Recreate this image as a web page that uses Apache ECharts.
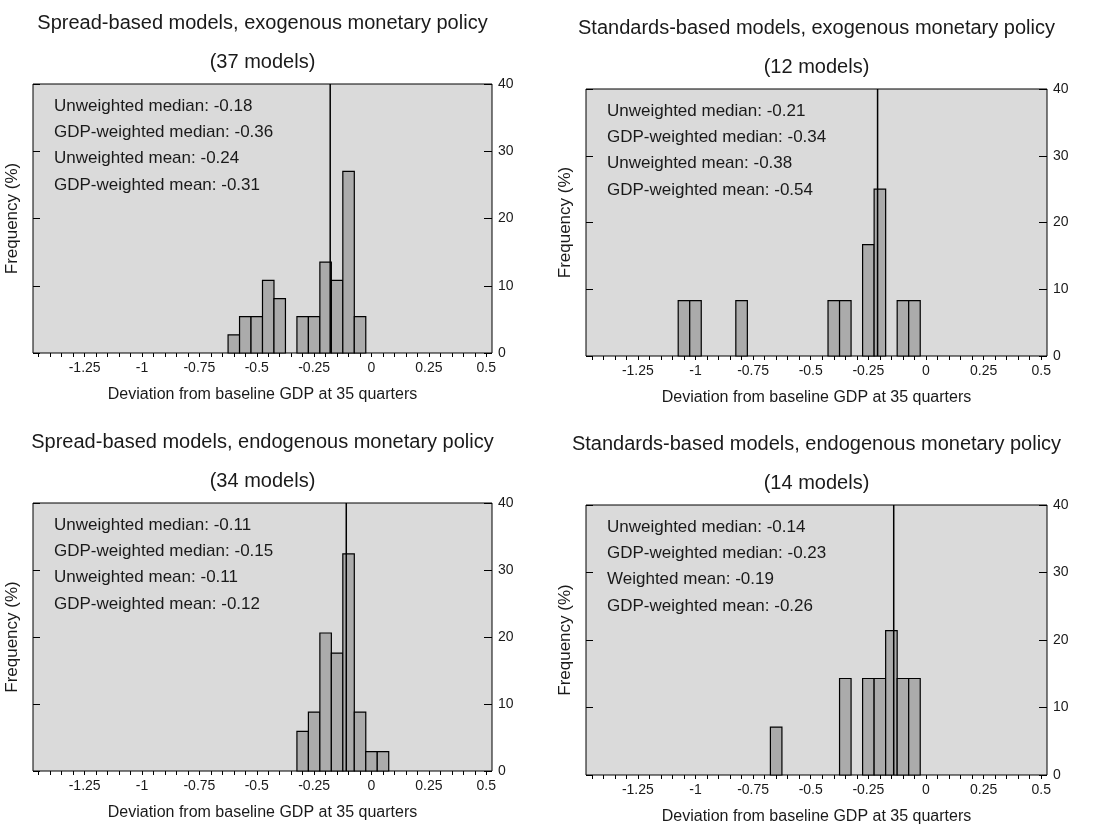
<!DOCTYPE html>
<html>
<head>
<meta charset="utf-8">
<script src="https://cdn.jsdelivr.net/npm/echarts@6/dist/echarts.min.js"></script>
<style>
  html, body { margin: 0; padding: 0; background: #ffffff; }
  #chart { width: 1102px; height: 826px; }
</style>
</head>
<body>
<div id="chart"></div>
<script>
// Panel headings
const panelTitles = [
  'Spread-based models, exogenous monetary policy',
  'Standards-based models, exogenous monetary policy',
  'Spread-based models, endogenous monetary policy',
  'Standards-based models, endogenous monetary policy'
];
const modelCounts = [37, 12, 34, 14];

// Axis tick labels
const xTickLabels = [-1.25, -1, -0.75, -0.5, -0.25, 0, 0.25, 0.5];
const yTickLabels = [0, 10, 20, 30, 40];
const xAxisTitle = 'Deviation from baseline GDP at 35 quarters';
const yAxisTitle = 'Frequency (%)';

// Histogram bins (centre of each 0.05-wide bin) and frequency in percent
const binWidth = 0.05;
const spreadExoBins = [-0.60, -0.55, -0.50, -0.45, -0.40, -0.30, -0.25, -0.20, -0.15, -0.10, -0.05];
const spreadExoFreq = [2.7, 5.4, 5.4, 10.8, 8.1, 5.4, 5.4, 13.5, 10.8, 27.0, 5.4];

const standardsExoBins = [-1.05, -1.00, -0.80, -0.40, -0.35, -0.25, -0.20, -0.10, -0.05];
const standardsExoFreq = [8.3, 8.3, 8.3, 8.3, 8.3, 16.7, 25.0, 8.3, 8.3];

const spreadEndoBins = [-0.30, -0.25, -0.20, -0.15, -0.10, -0.05, 0.00, 0.05];
const spreadEndoFreq = [5.9, 8.8, 20.6, 17.6, 32.4, 8.8, 2.9, 2.9];

const standardsEndoBins = [-0.65, -0.35, -0.25, -0.20, -0.15, -0.10, -0.05];
const standardsEndoFreq = [7.1, 14.3, 14.3, 14.3, 21.4, 14.3, 14.3];

// Summary statistics printed in each panel
const unweightedMedian = [-0.18, -0.21, -0.11, -0.14];
const gdpWeightedMedian = [-0.36, -0.34, -0.15, -0.23];
const meanLabels = ['Unweighted mean', 'Unweighted mean', 'Unweighted mean', 'Weighted mean'];
const meanValues = [-0.24, -0.38, -0.11, -0.19];
const gdpWeightedMean = [-0.31, -0.54, -0.12, -0.26];

const binSets = [
  [spreadExoBins, spreadExoFreq],
  [standardsExoBins, standardsExoFreq],
  [spreadEndoBins, spreadEndoFreq],
  [standardsEndoBins, standardsEndoFreq]
];

// Plot rectangles (px) for the 2x2 layout
const boxes = [
  { left: 33,  top: 84,  width: 459, height: 269 },
  { left: 586, top: 89,  width: 461, height: 267 },
  { left: 33,  top: 503, width: 459, height: 268 },
  { left: 586, top: 505, width: 461, height: 278 }
];

const FONT = '"Liberation Sans", Arial, Helvetica, sans-serif';
const INK = '#1a1a1a';
const X_MIN = -1.475, X_MAX = 0.525;

// minor ticks every 0.05 along the x axis
const minorTicks = [];
for (let k = -29; k <= 10; k++) minorTicks.push(+(k * 0.05).toFixed(2));

const fmt = v => (v < 0 ? '-' : '') + Math.abs(v).toFixed(2);

const grids = [], xAxes = [], yAxes = [], series = [], graphics = [];

boxes.forEach((b, i) => {
  grids.push({
    left: b.left, top: b.top, width: b.width, height: b.height,
    show: true, backgroundColor: '#dadada', borderColor: '#000', borderWidth: 1,
    containLabel: false
  });

  xAxes.push({
    type: 'value', gridIndex: i, min: X_MIN, max: X_MAX,
    axisLine: { show: false, onZero: false },
    splitLine: { show: false },
    axisTick: { show: true, inside: false, length: 4, customValues: minorTicks,
                lineStyle: { color: '#000', width: 1 } },
    axisLabel: { show: true, customValues: xTickLabels, margin: 8,
                 color: INK, fontFamily: FONT, fontSize: 14,
                 formatter: v => String(+v.toFixed(2)) },
    name: xAxisTitle, nameLocation: 'middle', nameGap: 34,
    nameTextStyle: { color: INK, fontFamily: FONT, fontSize: 16 }
  });

  // right axis carries the frequency labels
  yAxes.push({
    type: 'value', gridIndex: i, position: 'right', min: 0, max: 40, interval: 10,
    axisLine: { show: false, onZero: false }, splitLine: { show: false },
    axisTick: { show: true, inside: true, length: 8, lineStyle: { color: '#000' } },
    axisLabel: { show: true, margin: 6, color: INK, fontFamily: FONT, fontSize: 14,
                 customValues: yTickLabels }
  });
  // left axis: inner ticks and the axis title
  yAxes.push({
    type: 'value', gridIndex: i, position: 'left', min: 0, max: 40, interval: 10,
    axisLine: { show: false, onZero: false }, splitLine: { show: false },
    axisTick: { show: true, inside: true, length: 7, lineStyle: { color: '#000' } },
    axisLabel: { show: false },
    name: yAxisTitle, nameLocation: 'middle', nameGap: 12, nameRotate: 90,
    nameTextStyle: { color: INK, fontFamily: FONT, fontSize: 17 }
  });

  const [bins, freq] = binSets[i];
  series.push({
    type: 'custom', xAxisIndex: i, yAxisIndex: 2 * i,
    data: bins.map((c, j) => [c, freq[j]]),
    renderItem: (params, api) => {
      const c = api.value(0), f = api.value(1);
      const p0 = api.coord([c - binWidth / 2, f]);
      const p1 = api.coord([c + binWidth / 2, 0]);
      return {
        type: 'rect',
        shape: { x: p0[0], y: p0[1], width: p1[0] - p0[0], height: p1[1] - p0[1] },
        style: { fill: '#ababab', stroke: '#000', lineWidth: 1.2 }
      };
    },
    silent: true, z: 3
  });

  // vertical marker at the unweighted median
  series.push({
    type: 'line', xAxisIndex: i, yAxisIndex: 2 * i,
    data: [[unweightedMedian[i], 0], [unweightedMedian[i], 40]],
    symbol: 'none', lineStyle: { color: '#000', width: 1.5 },
    silent: true, z: 4
  });

  const cx = b.left + b.width / 2;
  graphics.push({
    type: 'text', x: cx, y: b.top - 61,
    style: { text: panelTitles[i], font: `20px ${FONT}`, fill: INK,
             align: 'center', verticalAlign: 'middle', textAlign: 'center', textVerticalAlign: 'middle' }
  });
  graphics.push({
    type: 'text', x: cx, y: b.top - 22,
    style: { text: `(${modelCounts[i]} models)`, font: `20px ${FONT}`, fill: INK,
             align: 'center', verticalAlign: 'middle', textAlign: 'center', textVerticalAlign: 'middle' }
  });

  const statLines = [
    `Unweighted median: ${fmt(unweightedMedian[i])}`,
    `GDP-weighted median: ${fmt(gdpWeightedMedian[i])}`,
    `${meanLabels[i]}: ${fmt(meanValues[i])}`,
    `GDP-weighted mean: ${fmt(gdpWeightedMean[i])}`
  ];
  statLines.forEach((t, k) => {
    graphics.push({
      type: 'text', x: b.left + 21, y: b.top + 22 + k * 26.3, z: 10,
      style: { text: t, font: `17px ${FONT}`, fill: INK,
               align: 'left', verticalAlign: 'middle', textAlign: 'left', textVerticalAlign: 'middle' }
    });
  });
});

const chart = echarts.init(document.getElementById('chart'), null, { renderer: 'canvas' });
chart.setOption({
  backgroundColor: '#ffffff',
  animation: false,
  grid: grids,
  xAxis: xAxes,
  yAxis: yAxes,
  series: series,
  graphic: graphics
});
</script>
</body>
</html>
